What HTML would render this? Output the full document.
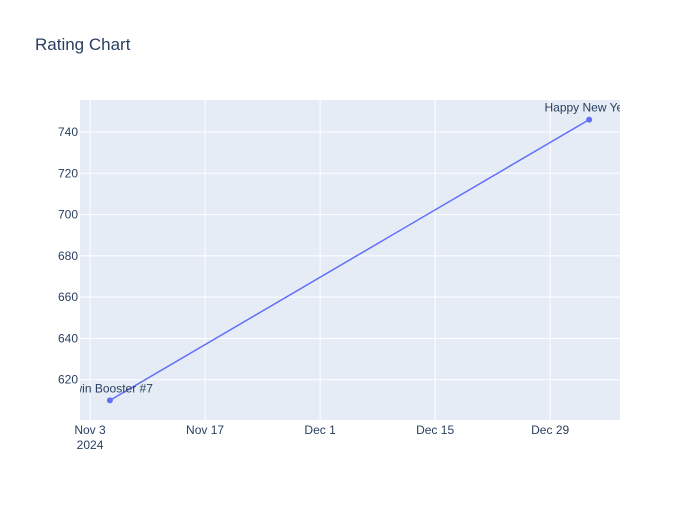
<!DOCTYPE html>
<html><head><meta charset="utf-8"><style>
body{margin:0;background:#fff;font-family:"Liberation Sans","DejaVu Sans",sans-serif}
svg text{font-family:"Liberation Sans","DejaVu Sans",sans-serif}
</style></head><body>
<svg id="chart" width="700" height="500">
<rect width="700" height="500" fill="#fff"/>
<text x="35" y="50" font-size="17" fill="#2a3f5f">Rating Chart</text>
<defs><clipPath id="clip"><rect x="80" y="100" width="540" height="320"/></clipPath></defs>
<rect x="80" y="100" width="540" height="320" fill="#e5ecf6"/>
<g id="grid"></g>
<g id="axes"></g>
<g id="series" clip-path="url(#clip)"></g>
</svg>
<script>
const dates = ["2024-11-05T10:00", "2025-01-02T18:00"];
const ratings = [610, 746];
const labels = ["Twin Booster #7", "Happy New Year"];
const yTicks = [620, 640, 660, 680, 700, 720, 740];
const xTickDates = ["2024-11-03", "2024-11-17", "2024-12-01", "2024-12-15", "2024-12-29"];
const xTickLabels = ["Nov 3", "Nov 17", "Dec 1", "Dec 15", "Dec 29"];

const NS = "http://www.w3.org/2000/svg";
const X0 = 80, X1 = 620, Y0 = 100, Y1 = 420;
const day = 86400000;
const tRef = Date.parse("2024-11-03T00:00");
const xMinD = -1.22, xMaxD = 64.5;
const yMin = 600.5, yMax = 755.5;
function xs(d){const v=(Date.parse(d)-tRef)/day;return X0+(v-xMinD)/(xMaxD-xMinD)*(X1-X0);}
function ys(v){return Y1-(v-yMin)/(yMax-yMin)*(Y1-Y0);}
function mk(tag, attrs, parent){const e=document.createElementNS(NS,tag);for(const k in attrs)e.setAttribute(k,attrs[k]);parent.appendChild(e);return e;}
const grid=document.getElementById('grid'), axes=document.getElementById('axes'), series=document.getElementById('series');

yTicks.forEach(v=>{
  const y=ys(v);
  const l=mk('line',{x1:X0,x2:X1,y1:y,y2:y,stroke:'#fff','stroke-width':1},grid);
  
  
  const t=mk('text',{x:X0-2,y:y+4,'text-anchor':'end','font-size':12,fill:'#2a3f5f'},axes);
  t.textContent=v;
  
  
});
xTickDates.forEach((d,i)=>{
  const x=xs(d);
  const l=mk('line',{x1:x,x2:x,y1:Y0,y2:Y1,stroke:'#fff','stroke-width':1},grid);
  
  
  const t=mk('text',{x:x,y:Y1+14,'text-anchor':'middle','font-size':12,fill:'#2a3f5f'},axes);
  t.textContent=xTickLabels[i];
  
  
  if(i===0){
    const y2=mk('text',{x:x,y:Y1+29,'text-anchor':'middle','font-size':12,fill:'#2a3f5f'},axes);
    y2.textContent='2024';
    
    
  }
});
const pts=dates.map((d,i)=>[xs(d),ys(ratings[i])]);
const line=mk('polyline',{points:pts.map(p=>p.join(',')).join(' '),fill:'none',stroke:'#636efa','stroke-width':1.5},series);


pts.forEach((p,i)=>{
  const c=mk('circle',{cx:p[0],cy:p[1],r:3,fill:'#636efa'},series);
  
  
  const t=mk('text',{x:p[0],y:p[1]-8,'text-anchor':'middle','font-size':12,fill:'#2a3f5f'},series);
  t.textContent=labels[i];
  
  
});
</script>
</body></html>
